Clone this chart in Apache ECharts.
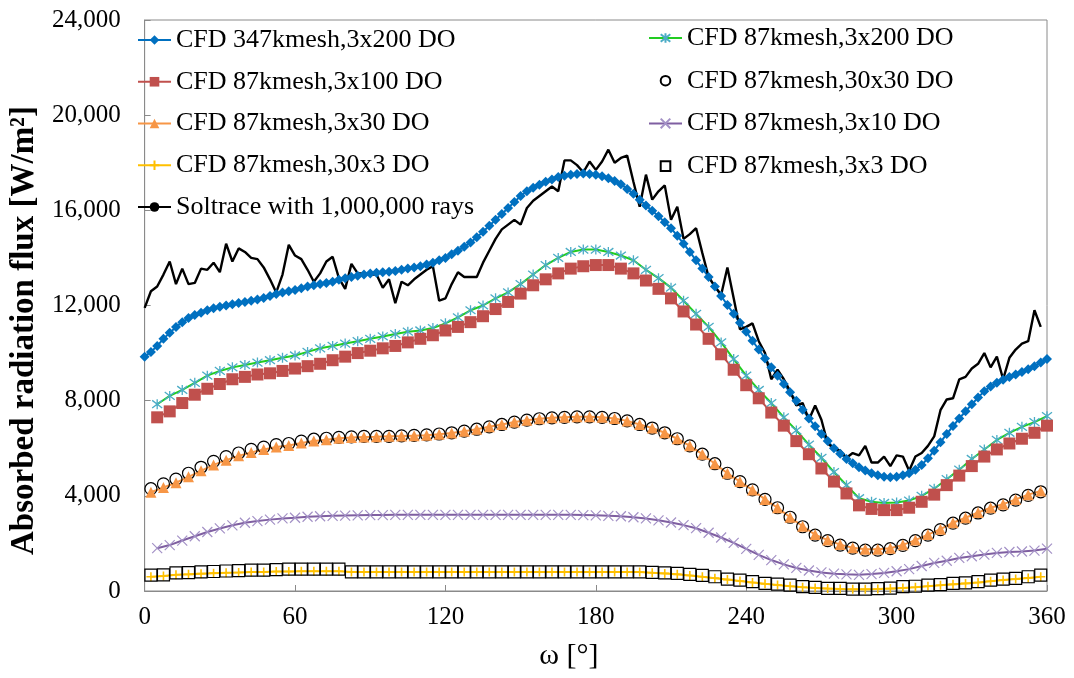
<!DOCTYPE html>
<html>
<head>
<meta charset="utf-8">
<script src="https://cdn.jsdelivr.net/npm/echarts@6/dist/echarts.min.js"></script>
<style>
  html, body { margin: 0; padding: 0; background: #fff; }
  #chart { width: 1074px; height: 678px; }
</style>
</head>
<body>
<div id="chart"></div>
<script>
// Circumferential angle ω [°] grids used by the series
const ANGLES_2P5 = [0,2.5,5,7.5,10,12.5,15,17.5,20,22.5,25,27.5,30,32.5,35,37.5,40,42.5,45,47.5,
  50,52.5,55,57.5,60,62.5,65,67.5,70,72.5,75,77.5,80,82.5,85,87.5,90,92.5,95,97.5,
  100,102.5,105,107.5,110,112.5,115,117.5,120,122.5,125,127.5,130,132.5,135,137.5,140,142.5,145,147.5,
  150,152.5,155,157.5,160,162.5,165,167.5,170,172.5,175,177.5,180,182.5,185,187.5,190,192.5,195,197.5,
  200,202.5,205,207.5,210,212.5,215,217.5,220,222.5,225,227.5,230,232.5,235,237.5,240,242.5,245,247.5,
  250,252.5,255,257.5,260,262.5,265,267.5,270,272.5,275,277.5,280,282.5,285,287.5,290,292.5,295,297.5,
  300,302.5,305,307.5,310,312.5,315,317.5,320,322.5,325,327.5,330,332.5,335,337.5,340,342.5,345,347.5,
  350,352.5,355,357.5,360];
const ANGLES_ODD = [2.5,7.5,12.5,17.5,22.5,27.5,32.5,37.5,42.5,47.5,52.5,57.5,62.5,67.5,72.5,77.5,82.5,87.5,92.5,97.5,
  102.5,107.5,112.5,117.5,122.5,127.5,132.5,137.5,142.5,147.5,152.5,157.5,162.5,167.5,172.5,177.5,182.5,187.5,192.5,197.5,
  202.5,207.5,212.5,217.5,222.5,227.5,232.5,237.5,242.5,247.5,252.5,257.5,262.5,267.5,272.5,277.5,282.5,287.5,292.5,297.5,
  302.5,307.5,312.5,317.5,322.5,327.5,332.5,337.5,342.5,347.5,352.5,357.5];
const ANGLES_EVEN = [5,10,15,20,25,30,35,40,45,50,55,60,65,70,75,80,85,90,95,100,
  105,110,115,120,125,130,135,140,145,150,155,160,165,170,175,180,185,190,195,200,
  205,210,215,220,225,230,235,240,245,250,255,260,265,270,275,280,285,290,295,300,
  305,310,315,320,325,330,335,340,345,350,355,360];

// Absorbed radiation flux [W/m²]
const CFD347_3x200 = [9850,10050,10300,10600,10850,11100,11300,11470,11600,11700,
  11800,11880,11950,12000,12050,12100,12150,12200,12250,12320,
  12400,12480,12550,12600,12650,12720,12800,12850,12900,12950,
  13000,13080,13150,13200,13250,13300,13350,13380,13400,13420,
  13450,13500,13550,13600,13650,13720,13800,13900,14000,14150,
  14300,14470,14650,14870,15100,15350,15600,15850,16100,16350,
  16600,16800,16950,17080,17200,17300,17400,17450,17500,17530,
  17550,17530,17500,17430,17350,17230,17100,16900,16700,16450,
  16200,15980,15750,15500,15250,14930,14600,14250,13900,13550,
  13200,12800,12400,12020,11650,11270,10900,10520,10150,9770,
  9400,9050,8700,8350,8000,7620,7250,6920,6600,6300,
  6000,5770,5550,5370,5200,5070,4950,4870,4800,4780,
  4800,4860,4950,5100,5300,5580,5900,6250,6600,6930,
  7250,7550,7850,8130,8400,8600,8750,8880,9000,9100,
  9200,9320,9450,9600,9750];
const CFD87_3x200 = [7850,8200,8450,8750,9050,9250,9400,9500,9600,9700,
  9800,9900,10050,10200,10300,10400,10500,10600,10700,10800,
  10900,10950,11050,11250,11500,11800,12000,12300,12550,12900,
  13300,13700,14000,14250,14350,14350,14250,14100,13900,13500,
  13150,12750,12200,11650,11100,10450,9750,9050,8450,7900,
  7300,6750,6150,5600,5000,4450,3900,3750,3700,3720,
  3800,4000,4300,4700,5100,5550,5950,6350,6650,6900,
  7100,7350];
const CFD87_3x100 = [7300,7550,7900,8250,8500,8700,8900,9000,9100,9150,
  9250,9350,9450,9550,9700,9850,10000,10100,10200,10300,
  10450,10600,10750,10950,11100,11300,11550,11850,12150,12500,
  12850,13100,13350,13550,13650,13700,13700,13550,13350,13050,
  12700,12300,11750,11200,10600,9950,9300,8650,8100,7500,
  6950,6300,5750,5150,4600,4100,3600,3450,3400,3400,
  3500,3750,4050,4450,4850,5250,5650,5950,6200,6400,
  6650,6950];
const CFD87_30x30 = [4300,4500,4700,4950,5200,5450,5650,5800,5950,6050,
  6150,6200,6300,6380,6420,6460,6480,6500,6500,6500,
  6520,6540,6560,6600,6650,6720,6800,6900,7000,7100,
  7180,7240,7280,7300,7320,7320,7300,7250,7150,7000,
  6850,6650,6400,6100,5750,5350,4950,4600,4250,3850,
  3500,3100,2700,2350,2120,1930,1800,1720,1720,1780,
  1920,2120,2350,2580,2850,3060,3280,3480,3620,3820,
  4020,4170];
const CFD87_3x30 = [4150,4350,4550,4800,5050,5300,5500,5680,5820,5950,
  6050,6120,6220,6300,6360,6420,6450,6470,6480,6500,
  6510,6530,6550,6590,6640,6710,6800,6900,7000,7100,
  7180,7240,7280,7300,7320,7320,7300,7250,7150,7000,
  6850,6650,6400,6100,5750,5350,4950,4600,4250,3850,
  3500,3100,2720,2370,2140,1950,1820,1750,1750,1800,
  1940,2140,2370,2600,2870,3080,3300,3500,3650,3850,
  4050,4200];
const CFD87_3x10 = [1800,1930,2120,2300,2480,2630,2760,2870,2940,3000,
  3050,3080,3120,3140,3160,3170,3180,3190,3190,3200,
  3200,3200,3200,3200,3200,3200,3200,3200,3200,3200,
  3200,3200,3200,3200,3190,3180,3160,3140,3100,3050,
  2970,2880,2770,2640,2450,2250,2020,1770,1520,1300,
  1120,970,860,780,730,700,680,710,760,830,
  920,1050,1180,1270,1390,1460,1530,1600,1640,1660,
  1700,1780];
const CFD87_30x3 = [600,630,680,700,730,750,770,780,800,800,
  820,820,830,830,830,830,800,800,800,800,
  800,800,800,800,800,800,800,800,800,800,
  800,800,800,800,800,800,800,800,800,800,
  770,740,700,650,600,540,480,420,360,300,
  250,200,160,130,100,80,70,70,80,100,
  130,160,200,240,280,320,360,410,460,500,
  550,600];
const CFD87_3x3 = [670,680,760,770,800,820,840,860,880,880,
  900,920,920,920,920,920,800,800,800,800,
  800,800,800,800,800,800,800,800,800,800,
  800,800,800,800,800,800,800,800,800,800,
  780,760,740,700,660,600,500,460,390,320,
  290,250,180,150,110,110,80,80,100,120,
  180,200,250,270,320,340,390,460,500,530,
  600,670];
const SOLTRACE = [11900,12600,12800,13300,13850,12900,13550,12900,12950,13550,
  13500,13800,13400,14600,13850,14400,14250,14000,13950,13600,
  13100,12550,13300,14550,14100,13950,13500,13000,13350,13850,
  14050,13150,12700,13750,13350,13350,13300,13300,12750,13100,
  12100,13000,12850,13100,13300,13500,13650,12200,12300,12900,
  13400,13200,13200,13200,13800,14300,14800,15200,15400,15600,
  15400,16100,16400,16600,16800,17000,16800,18100,18100,17900,
  17600,18050,17700,18050,18550,18000,18200,18300,17200,16150,
  17500,16450,16800,17050,15600,16150,14800,15000,15250,14200,
  13200,12800,12450,13600,12300,11000,11100,11250,10500,10000,
  8900,9300,8900,8400,7800,7900,7200,7800,7200,6200,
  6000,5900,5600,5800,5700,6100,5400,5400,5650,5250,
  5700,5650,5050,5650,5800,6100,6500,7600,8050,8100,
  8900,9000,9350,9550,10000,9400,9850,8900,9800,10150,
  10400,10500,11800,11100];

const Y_TICKS = [0, 4000, 8000, 12000, 16000, 20000, 24000];
const X_TICKS = [0, 60, 120, 180, 240, 300, 360];

const LEGEND_LEFT = ['CFD 347kmesh,3x200 DO', 'CFD 87kmesh,3x100 DO', 'CFD 87kmesh,3x30 DO',
  'CFD 87kmesh,30x3 DO', 'Soltrace with 1,000,000 rays'];
const LEGEND_RIGHT = ['CFD 87kmesh,3x200 DO', 'CFD 87kmesh,30x30 DO', 'CFD 87kmesh,3x10 DO',
  'CFD 87kmesh,3x3 DO'];

function pairs(xs, ys) { return ys.map((v, i) => [xs[i], v]); }

const SERIF = '"Liberation Serif", "Times New Roman", serif';
const ASTERISK = 'path://M-1,-1L1,1M-1,1L1,-1M0,-1.3L0,1.3';
const CROSS = 'path://M-1,-1L1,1M-1,1L1,-1';
const PLUS = 'path://M0,-1L0,1M-1,0L1,0';
const CLEAR = 'rgba(255,255,255,0)';

function lineSeries(name, data, opt) {
  return Object.assign({
    name, type: 'line', data, smooth: false, showSymbol: true,
    showAllSymbol: true, animation: false, silent: true
  }, opt);
}

const series = [
  lineSeries('CFD 347kmesh,3x200 DO', pairs(ANGLES_2P5, CFD347_3x200), {
    symbol: 'diamond', symbolSize: 10,
    itemStyle: { color: '#0070C0' }, lineStyle: { color: '#0070C0', width: 2 }
  }),
  lineSeries('CFD 87kmesh,3x200 DO', pairs(ANGLES_EVEN, CFD87_3x200), {
    symbol: ASTERISK, symbolSize: 10,
    itemStyle: { color: CLEAR, borderColor: '#4BACC6', borderWidth: 1.3 },
    lineStyle: { color: '#22CC22', width: 2 }
  }),
  lineSeries('CFD 87kmesh,3x100 DO', pairs(ANGLES_EVEN, CFD87_3x100), {
    symbol: 'rect', symbolSize: 12,
    itemStyle: { color: '#C0504D' }, lineStyle: { color: '#C0504D', width: 2 }
  }),
  lineSeries('CFD 87kmesh,30x30 DO', pairs(ANGLES_ODD, CFD87_30x30), {
    symbol: 'circle', symbolSize: 12,
    itemStyle: { color: CLEAR, borderColor: '#000', borderWidth: 1.2 },
    lineStyle: { width: 0, opacity: 0 }
  }),
  lineSeries('CFD 87kmesh,3x30 DO', pairs(ANGLES_ODD, CFD87_3x30), {
    symbol: 'triangle', symbolSize: 11,
    itemStyle: { color: '#F79646' }, lineStyle: { color: '#F79646', width: 2 }
  }),
  lineSeries('CFD 87kmesh,3x10 DO', pairs(ANGLES_EVEN, CFD87_3x10), {
    symbol: CROSS, symbolSize: 10,
    itemStyle: { color: CLEAR, borderColor: '#A391C6', borderWidth: 1.2 },
    lineStyle: { color: '#7F5FA1', width: 2 }
  }),
  lineSeries('CFD 87kmesh,30x3 DO', pairs(ANGLES_ODD, CFD87_30x3), {
    symbol: PLUS, symbolSize: 9,
    itemStyle: { color: CLEAR, borderColor: '#FFC000', borderWidth: 1.6 },
    lineStyle: { color: '#FFC000', width: 2 }
  }),
  lineSeries('CFD 87kmesh,3x3 DO', pairs(ANGLES_ODD, CFD87_3x3), {
    symbol: 'rect', symbolSize: 12,
    itemStyle: { color: CLEAR, borderColor: '#000', borderWidth: 1.2 },
    lineStyle: { width: 0, opacity: 0 }
  }),
  lineSeries('Soltrace with 1,000,000 rays', pairs(ANGLES_2P5, SOLTRACE), {
    symbol: 'none', itemStyle: { color: '#000' }, lineStyle: { color: '#000', width: 2.4 }
  })
];

const legendText = { fontFamily: SERIF, fontSize: 26, color: '#000', lineHeight: 30 };
const legendBase = { orient: 'vertical', padding: 0, itemWidth: 33, itemHeight: 12,
  textStyle: legendText, selectedMode: false };

const option = {
  backgroundColor: '#fff',
  animation: false,
  grid: { left: 138, right: 27, top: 20, bottom: 87, show: true, borderColor: '#8a8a8a', borderWidth: 1 },
  legend: [
    Object.assign({ data: LEGEND_LEFT, left: 137, top: 25, itemGap: 11.75 }, legendBase),
    Object.assign({ data: LEGEND_RIGHT, left: 648, top: 23, itemGap: 12.7 }, legendBase)
  ],
  xAxis: {
    type: 'value', min: X_TICKS[0], max: X_TICKS[X_TICKS.length - 1], interval: 60,
    name: 'ω [°]', nameLocation: 'middle', nameGap: 50,
    nameTextStyle: { fontFamily: SERIF, fontSize: 30, color: '#000', padding: [0, 54, 0, 0] },
    axisLine: { lineStyle: { color: '#8a8a8a' } },
    axisTick: { inside: true, length: 6, lineStyle: { color: '#8a8a8a' } },
    axisLabel: { fontFamily: SERIF, fontSize: 25, color: '#000', margin: 14 },
    splitLine: { show: false }
  },
  yAxis: {
    type: 'value', min: Y_TICKS[0], max: Y_TICKS[Y_TICKS.length - 1], interval: 4000,
    name: 'Absorbed radiation flux [W/m²]', nameLocation: 'middle', nameGap: 100,
    nameTextStyle: { fontFamily: SERIF, fontSize: 33, fontWeight: 'bold', color: '#000',
      padding: [0, 50, 0, 0] },
    axisLine: { show: true, lineStyle: { color: '#8a8a8a' } },
    axisTick: { show: true, inside: true, length: 6, lineStyle: { color: '#8a8a8a' } },
    axisLabel: { fontFamily: SERIF, fontSize: 25, color: '#000', margin: 24,
      formatter: v => v.toLocaleString('en-US') },
    splitLine: { show: false }
  },
  series
};

const chart = echarts.init(document.getElementById('chart'), null, { renderer: 'canvas' });
chart.setOption(option);
</script>
</body>
</html>
